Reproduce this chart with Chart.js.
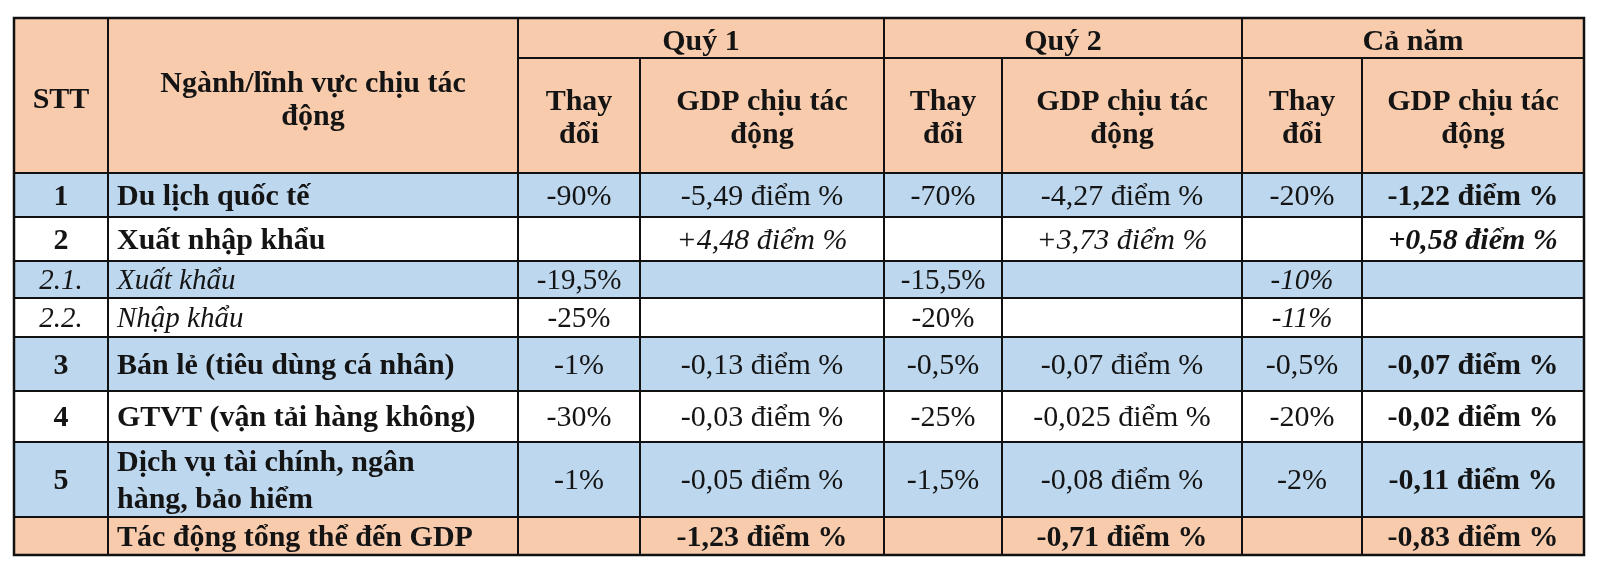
<!DOCTYPE html>
<html>
<head>
<meta charset="utf-8">
<script src="https://cdn.jsdelivr.net/npm/chart.js@4.4.0/dist/chart.umd.min.js"></script>
<style>
  html, body { margin: 0; background: #fff; }
  #wrap { width: 1600px; height: 576px; }
</style>
</head>
<body>
<div id="wrap"><canvas id="gdpTable"></canvas></div>
<script>
// --- Table data ---
const periods = ['Quý 1', 'Quý 2', 'Cả năm'];
const subHeaders = ['Thay|đổi', 'GDP chịu tác|động'];
const sttLabels = ['1', '2', '2.1.', '2.2.', '3', '4', '5', ''];
const sectors = ['Du lịch quốc tế', 'Xuất nhập khẩu', 'Xuất khẩu', 'Nhập khẩu', 'Bán lẻ (tiêu dùng cá nhân)', 'GTVT (vận tải hàng không)', 'Dịch vụ tài chính, ngân|hàng, bảo hiểm', 'Tác động tổng thể đến GDP'];
const q1Change = ['-90%', '', '-19,5%', '-25%', '-1%', '-30%', '-1%', ''];
const q1Gdp = ['-5,49 điểm %', '+4,48 điểm %', '', '', '-0,13 điểm %', '-0,03 điểm %', '-0,05 điểm %', '-1,23 điểm %'];
const q2Change = ['-70%', '', '-15,5%', '-20%', '-0,5%', '-25%', '-1,5%', ''];
const q2Gdp = ['-4,27 điểm %', '+3,73 điểm %', '', '', '-0,07 điểm %', '-0,025 điểm %', '-0,08 điểm %', '-0,71 điểm %'];
const yearChange = ['-20%', '', '-10%', '-11%', '-0,5%', '-20%', '-2%', ''];
const yearGdp = ['-1,22 điểm %', '+0,58 điểm %', '', '', '-0,07 điểm %', '-0,02 điểm %', '-0,11 điểm %', '-0,83 điểm %'];
const rowKind = ['main', 'main', 'sub', 'sub', 'main', 'main', 'main', 'total'];

// --- Layout (in scale units) ---
const colEdges = [14, 108, 518, 640, 884, 1002, 1242, 1362, 1584];
const headTop = 18, headSplit = 58;
const rowEdges = [173, 217, 261, 298, 337, 391, 442, 517, 555];

const PEACH = '#f8cbad';
const BLUE = '#bdd7ee';
const INK = '#141414';
const FONT = '"Liberation Serif", "Times New Roman", serif';
const SIZE = 30;

const columns = [sttLabels, sectors, q1Change, q1Gdp, q2Change, q2Gdp, yearChange, yearGdp];

function rowFill(r) {
    if (rowKind[r] === 'total') return PEACH;
    return r % 2 === 0 ? BLUE : '#ffffff';
}

function cellFont(c, r) {
    const sub = rowKind[r] === 'sub';
    let style = 'normal', weight = 'normal';
    if (c <= 1) {
        if (sub) style = 'italic'; else weight = 'bold';
    } else if (c === 6) {
        if (sub) style = 'italic';
    } else if (c === 3 || c === 5) {
        if (r === 1) style = 'italic';
        if (rowKind[r] === 'total') weight = 'bold';
    } else if (c === 7) {
        weight = 'bold';
        if (r === 1) style = 'italic';
    }
    const size = sub ? SIZE - 1 : SIZE;
    return `${style} ${weight} ${size}px ${FONT}`;
}

function drawLines(ctx, text, x, y, gap) {
    const parts = text.split('|');
    const start = y - (parts.length - 1) * gap / 2;
    parts.forEach((p, i) => ctx.fillText(p, x, start + i * gap));
}

const tablePlugin = {
    id: 'tableGrid',
    beforeDatasetsDraw(chart) {
        const { ctx, scales: { x, y } } = chart;
        const px = v => x.getPixelForValue(v);
        const py = v => y.getPixelForValue(v);
        ctx.save();
        ctx.fillStyle = PEACH;
        ctx.fillRect(px(colEdges[0]), py(headTop), px(colEdges[8]) - px(colEdges[0]), py(rowEdges[0]) - py(headTop));
        for (let r = 0; r < rowEdges.length - 1; r++) {
            ctx.fillStyle = rowFill(r);
            ctx.fillRect(px(colEdges[0]), py(rowEdges[r]), px(colEdges[8]) - px(colEdges[0]), py(rowEdges[r + 1]) - py(rowEdges[r]));
        }
        ctx.restore();
    },
    afterDatasetsDraw(chart) {
        const { ctx, scales: { x, y } } = chart;
        const px = v => x.getPixelForValue(v);
        const py = v => y.getPixelForValue(v);
        ctx.save();
        ctx.fillStyle = INK;
        ctx.textBaseline = 'middle';

        // header texts
        ctx.textAlign = 'center';
        ctx.font = `bold ${SIZE}px ${FONT}`;
        const headMid = py((headTop + rowEdges[0]) / 2);
        ctx.fillText('STT', px((colEdges[0] + colEdges[1]) / 2), headMid + 5);
        drawLines(ctx, 'Ngành/lĩnh vực chịu tác|động', px((colEdges[1] + colEdges[2]) / 2), headMid + 5, 33);
        periods.forEach((p, i) => {
            const c = 2 + i * 2;
            ctx.fillText(p, px((colEdges[c] + colEdges[c + 2]) / 2), py((headTop + headSplit) / 2) + 4);
            subHeaders.forEach((s, j) => {
                drawLines(ctx, s, px((colEdges[c + j] + colEdges[c + j + 1]) / 2), py((headSplit + rowEdges[0]) / 2) + 3, 33);
            });
        });

        // body texts anchored on the dataset points
        chart.data.datasets.forEach((ds, c) => {
            const meta = chart.getDatasetMeta(c);
            ctx.textAlign = c === 1 ? 'left' : 'center';
            meta.data.forEach((pt, r) => {
                const label = ds.data[r].label;
                if (!label) return;
                ctx.font = cellFont(c, r);
                drawLines(ctx, label, pt.x, pt.y + 2, 37);
            });
        });

        // grid lines
        ctx.strokeStyle = '#111';
        ctx.lineWidth = 2;
        ctx.beginPath();
        const left = px(colEdges[0]), right = px(colEdges[8]);
        const top = py(headTop), bottom = py(rowEdges[rowEdges.length - 1]);
        rowEdges.forEach(e => { ctx.moveTo(left, py(e)); ctx.lineTo(right, py(e)); });
        ctx.moveTo(left, top); ctx.lineTo(right, top);
        ctx.moveTo(px(colEdges[2]), py(headSplit)); ctx.lineTo(right, py(headSplit));
        colEdges.forEach((e, i) => {
            const spanTop = (i === 3 || i === 5 || i === 7) ? py(headSplit) : top;
            ctx.moveTo(px(e), spanTop); ctx.lineTo(px(e), bottom);
        });
        ctx.stroke();
        ctx.lineWidth = 2.5;
        ctx.strokeRect(left, top, right - left, bottom - top);
        ctx.restore();
    }
};

const datasets = columns.map((col, c) => ({
    label: 'col' + c,
    data: col.map((v, r) => ({
        x: c === 1 ? colEdges[1] + 9 : (colEdges[c] + colEdges[c + 1]) / 2,
        y: (rowEdges[r] + rowEdges[r + 1]) / 2,
        label: v
    })),
    pointRadius: 0,
    pointHoverRadius: 0,
    showLine: false
}));

document.addEventListener('DOMContentLoaded', () => {
    new Chart(document.getElementById('gdpTable'), {
        type: 'scatter',
        data: { datasets },
        options: {
            responsive: true,
            maintainAspectRatio: false,
            animation: false,
            layout: { padding: 0 },
            events: [],
            scales: {
                x: { type: 'linear', min: 0, max: 1600, display: false },
                y: { type: 'linear', min: 0, max: 576, reverse: true, display: false }
            },
            plugins: { legend: { display: false }, tooltip: { enabled: false } }
        },
        plugins: [tablePlugin]
    });
});
</script>
</body>
</html>
